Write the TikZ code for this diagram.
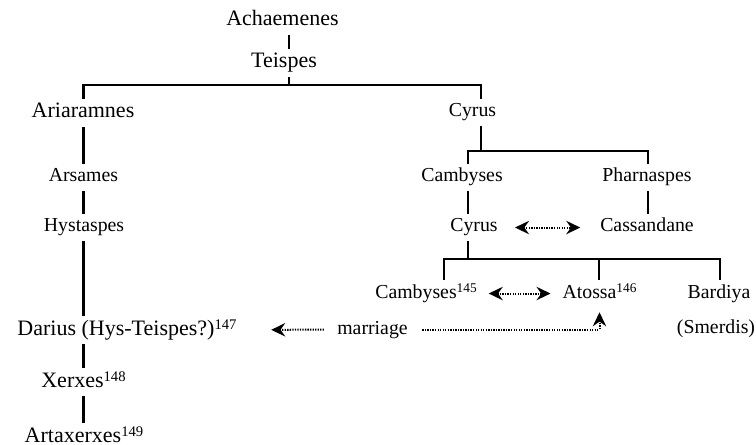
\documentclass[tikz,border=0pt]{standalone}
\usepackage{fontspec}
\setmainfont{Liberation Serif}
\usetikzlibrary{arrows.meta}
\newcommand\supbig[1]{\raisebox{3.8pt}{\fontsize{11}{11}\selectfont #1}}
\newcommand\supsmall[1]{\raisebox{3.8pt}{\fontsize{10}{10}\selectfont #1}}
\begin{document}
\begin{tikzpicture}[x=0.75pt,y=-0.75pt,
  big/.style={font=\fontsize{16.5}{19}\selectfont, inner sep=0pt, outer sep=3pt,
    text height=11.5pt, text depth=4pt, anchor=base},
  small/.style={font=\fontsize{14.85}{17}\selectfont, inner sep=0pt, outer sep=3pt,
    text height=10.4pt, text depth=3.7pt, anchor=base},
  link/.style={line width=1.8pt},
  dotline/.style={line width=1.5pt, dash pattern=on 1pt off 0.9pt},
  arr/.tip={Stealth[length=10.5pt,width=10pt,inset=3.5pt]},
]
\useasboundingbox (0,0) rectangle (756,445);

% nodes
\node[big]   (ach)  at (282.5,26)  {Achaemenes};
\node[big]   (tei)  at (284,68)    {Teispes};
\node[big]   (ari)  at (83,118)    {Ariaramnes};
\node[small] (ars)  at (83.5,182)  {Arsames};
\node[small] (hys)  at (84,232)    {Hystaspes};
\node[big]   (dar)  at (127,335)   {Darius (Hys-Teispes?)\supbig{147}};
\node[big]   (xer)  at (83.5,387)  {Xerxes\supbig{148}};
\node[big]   (art)  at (84,442)    {Artaxerxes\supbig{149}};
\node[small] (cyr)  at (472.5,117) {Cyrus};
\node[small] (cam)  at (462,182)   {Cambyses};
\node[small] (pha)  at (647,182)   {Pharnaspes};
\node[small] (cyr2) at (474,232)   {Cyrus};
\node[small] (cas)  at (647,232)   {Cassandane};
\node[small] (cmb)  at (426,298)   {Cambyses\supsmall{145}};
\node[small] (ato)  at (599.5,298) {Atossa\supsmall{146}};
\node[small] (bar)  at (719,298)   {Bardiya};
\node[small] (sme)  at (716,333)   {(Smerdis)};
\node[small] (mar)  at (372.5,334) {marriage};

% junction coordinates
\coordinate (cA)  at (289,85);
\coordinate (cL)  at (83.5,85);
\coordinate (cR)  at (481,85);
\coordinate (cR2) at (481,151);
\coordinate (cCam) at (468,151);
\coordinate (cPha) at (648,151);
\coordinate (c3)  at (468,259);
\coordinate (c3a) at (444,259);
\coordinate (c3b) at (599,259);
\coordinate (c3c) at (720,259);

% family lines
\draw[link] (ach.south -| cA) -- (tei.north -| cA);
\draw[link] (tei.south -| cA) -- (cA);
\draw[link] (cL |- ari.north) -- (cL) -- (cR) -- (cR |- cyr.north);
\draw[link] (ari.south -| cL) -- (ars.north -| cL);
\draw[link] (ars.south -| cL) -- (hys.north -| cL);
\draw[link] (hys.south -| cL) -- (dar.north -| cL);
\draw[link] (dar.south -| cL) -- (xer.north -| cL);
\draw[link] (xer.south -| cL) -- (art.north -| cL);
\draw[link] (cyr.south -| cR) -- (cR2);
\draw[link] (cCam |- cam.north) -- (cCam) -- (cPha) -- (cPha |- pha.north);
\draw[link] (cam.south -| cCam) -- (cyr2.north -| cCam);
\draw[link] (pha.south -| cPha) -- (cas.north -| cPha);
\draw[link] (cyr2.south -| cCam) -- (c3);
\draw[link] (c3a |- cmb.north) -- (c3a) -- (c3c) -- (c3c |- bar.north);
\draw[link] (c3b) -- (c3b |- ato.north);

% marriages
\draw[dotline, arr-arr, shorten <=10pt, shorten >=12pt] (cyr2.east) -- (cas.west);
\draw[dotline, arr-arr, shorten <=6pt, shorten >=6pt] (cmb.east) -- (ato.west);
\draw[dotline, -arr, shorten <=7pt, shorten >=23pt] (mar.west) -- (dar.east);
\draw[dotline, -arr, shorten <=8pt, shorten >=4pt] (mar.east) -- (mar.east -| ato) -- (ato.south);
\end{tikzpicture}
\end{document}
